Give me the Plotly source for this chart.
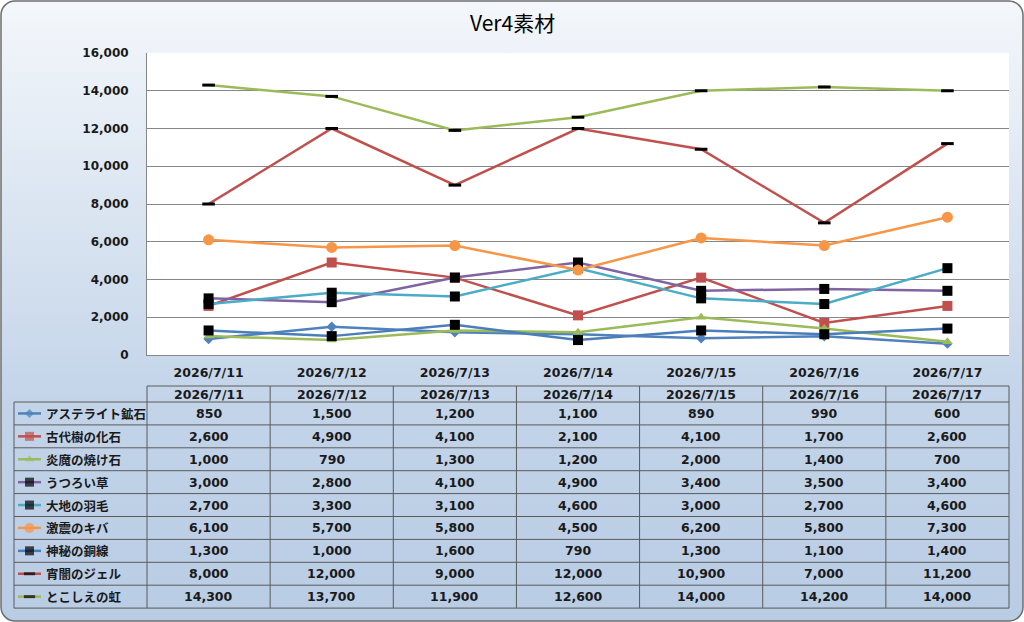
import base64
import plotly.graph_objects as go

# ---------------- data ----------------
dates = ["2026/7/11", "2026/7/12", "2026/7/13", "2026/7/14", "2026/7/15", "2026/7/16", "2026/7/17"]
series_names = ["アステライト鉱石", "古代樹の化石", "炎魔の焼け石", "うつろい草", "大地の羽毛",
                "激震のキバ", "神秘の銅線", "宵闇のジェル", "とこしえの虹"]
astelite = [850, 1500, 1200, 1100, 890, 990, 600]
kodaiju = [2600, 4900, 4100, 2100, 4100, 1700, 2600]
enma = [1000, 790, 1300, 1200, 2000, 1400, 700]
utsuroi = [3000, 2800, 4100, 4900, 3400, 3500, 3400]
daichi = [2700, 3300, 3100, 4600, 3000, 2700, 4600]
gekishin = [6100, 5700, 5800, 4500, 6200, 5800, 7300]
shinpi = [1300, 1000, 1600, 790, 1300, 1100, 1400]
yoiyami = [8000, 12000, 9000, 12000, 10900, 7000, 11200]
tokoshie = [14300, 13700, 11900, 12600, 14000, 14200, 14000]
values = [astelite, kodaiju, enma, utsuroi, daichi, gekishin, shinpi, yoiyami, tokoshie]
y_ticks = [0, 2000, 4000, 6000, 8000, 10000, 12000, 14000, 16000]

# ---------------- styles ----------------
line_colors = ["#4F81BD", "#C0504D", "#9BBB59", "#8064A2", "#4BACC6",
               "#F79646", "#4A7EBB", "#C0504D", "#9BBB59"]
marker_symbols = ["diamond", "square", "triangle-up", "square", "square",
                  "circle", "square", "line-ew-open", "line-ew-open"]
marker_colors = ["#4F81BD", "#C0504D", "#9BBB59", "#000000", "#000000",
                 "#F79646", "#000000", "#000000", "#000000"]
marker_sizes = [8, 10, 9, 10, 10, 11, 10, 9, 9]

W, H = 1024, 622
FONT = "Noto Sans CJK JP"
NUMFONT = "DejaVu Sans, Noto Sans CJK JP"

def px(x):
    return x / W

def py(y):
    return 1 - y / H

# plot area in pixels
PL, PR, PT, PB = 147, 1009, 53, 355
# table geometry in pixels
T_LEFT = 14
HEAD_TOP = 386
ROW_TOP = 402
ROW_H = 22.9
n_rows = len(series_names)
TABLE_BOTTOM = ROW_TOP + n_rows * ROW_H
col_w = (PR - PL) / len(dates)

fig = go.Figure()

for i, (name, vals) in enumerate(zip(series_names, values)):
    is_dash = "line" in marker_symbols[i]
    fig.add_trace(go.Scatter(
        x=dates, y=vals, name=name, mode="lines+markers",
        line=dict(color=line_colors[i], width=2.5),
        marker=dict(symbol=marker_symbols[i], size=marker_sizes[i], color=marker_colors[i],
                    line=dict(color=marker_colors[i], width=3 if is_dash else 0)),
        showlegend=False, hoverinfo="x+y+name",
    ))
    # legend keys inside the table (separate axis)
    fig.add_trace(go.Scatter(
        x=[0.0, 0.5, 1.0], y=[i + 0.5] * 3, mode="lines+markers",
        line=dict(color=line_colors[i], width=2.5),
        marker=dict(symbol=marker_symbols[i], size=[0, marker_sizes[i] - 1, 0], color=marker_colors[i],
                    line=dict(color=marker_colors[i], width=3 if is_dash else 0)),
        xaxis="x2", yaxis="y2", showlegend=False, hoverinfo="skip", cliponaxis=False,
    ))

# ---------------- background (gradient, rounded border) ----------------
svg = f'''<svg xmlns="http://www.w3.org/2000/svg" width="{W}" height="{H}" viewBox="0 0 {W} {H}">
<defs><linearGradient id="g" x1="0" y1="0" x2="0" y2="1">
<stop offset="0" stop-color="#F4F7FB"/><stop offset="0.45" stop-color="#D2DFEE"/>
<stop offset="0.65" stop-color="#C3D4E9"/><stop offset="1" stop-color="#B8CCE4"/></linearGradient></defs>
<rect x="1" y="1" width="{W-2}" height="{H-2}" rx="14" ry="14" fill="url(#g)" stroke="#6E6E6E" stroke-width="1.5"/>
</svg>'''
src = "data:image/svg+xml;base64," + base64.b64encode(svg.encode("utf-8")).decode("ascii")
fig.add_layout_image(dict(source=src, xref="paper", yref="paper", x=0, y=1, sizex=1, sizey=1,
                          xanchor="left", yanchor="top", sizing="stretch", layer="below"))

shapes = []
shapes.append(dict(type="rect", xref="paper", yref="paper", x0=px(PL), x1=px(PR), y0=py(PB), y1=py(PT),
                   fillcolor="white", line=dict(width=0), layer="below"))

LC = "#5A5A5A"
shapes.append(dict(type="line", xref="paper", yref="paper", x0=px(PL), x1=px(PR), y0=py(HEAD_TOP), y1=py(HEAD_TOP),
                   line=dict(color=LC, width=1)))
for r in range(n_rows + 1):
    yy = ROW_TOP + r * ROW_H
    shapes.append(dict(type="line", xref="paper", yref="paper", x0=px(T_LEFT), x1=px(PR), y0=py(yy), y1=py(yy),
                       line=dict(color=LC, width=1)))
shapes.append(dict(type="line", xref="paper", yref="paper", x0=px(T_LEFT), x1=px(T_LEFT),
                   y0=py(ROW_TOP), y1=py(TABLE_BOTTOM), line=dict(color=LC, width=1)))
for c in range(len(dates) + 1):
    xx = PL + c * col_w
    shapes.append(dict(type="line", xref="paper", yref="paper", x0=px(xx), x1=px(xx),
                       y0=py(HEAD_TOP), y1=py(TABLE_BOTTOM), line=dict(color=LC, width=1)))

annotations = []
annotations.append(dict(text="Ver4素材", xref="paper", yref="paper", x=0.5, y=py(22), showarrow=False,
                        font=dict(family=FONT, size=21, color="#000000"), xanchor="center", yanchor="middle"))
for c, d in enumerate(dates):
    annotations.append(dict(text=f"<b>{d}</b>", xref="paper", yref="paper", x=px(PL + (c + 0.5) * col_w),
                            y=py(394), showarrow=False, font=dict(family=NUMFONT, size=12.5, color="#1A1A1A"),
                            xanchor="center", yanchor="middle"))
for r, (name, vals) in enumerate(zip(series_names, values)):
    yc = ROW_TOP + (r + 0.5) * ROW_H
    annotations.append(dict(text=f"<b>{name}</b>", xref="paper", yref="paper", x=px(44), y=py(yc),
                            showarrow=False, font=dict(family=FONT, size=12.5, color="#1A1A1A"),
                            xanchor="left", yanchor="middle"))
    for c, v in enumerate(vals):
        annotations.append(dict(text=f"<b>{v:,}</b>", xref="paper", yref="paper", x=px(PL + (c + 0.5) * col_w),
                                y=py(yc), showarrow=False, font=dict(family=NUMFONT, size=12.5, color="#1A1A1A"),
                                xanchor="center", yanchor="middle"))

fig.update_layout(
    width=W, height=H, margin=dict(l=0, r=0, t=0, b=0, pad=0, autoexpand=False),
    paper_bgcolor="white", plot_bgcolor="rgba(0,0,0,0)",
    font=dict(family=NUMFONT, size=12.5, color="#1A1A1A"),
    xaxis=dict(domain=[px(PL), px(PR)], type="category", categoryorder="array", categoryarray=dates,
               range=[-0.5, len(dates) - 0.5], showgrid=False, showline=True, linecolor="#868686",
               ticks="", tickfont=dict(family=NUMFONT, size=12.5, color="#1A1A1A", weight="bold"),
               ticklabelstandoff=6, zeroline=False),
    yaxis=dict(domain=[py(PB), py(PT)], range=[0, 16000], tickvals=y_ticks, tickformat=",d",
               showgrid=True, gridcolor="#868686", gridwidth=1, showline=True, linecolor="#868686",
               ticks="", tickfont=dict(family=NUMFONT, size=12, color="#1A1A1A", weight="bold"),
               ticklabelstandoff=15, zeroline=False),
    xaxis2=dict(domain=[px(18), px(41)], range=[0, 1], visible=False, fixedrange=True),
    yaxis2=dict(domain=[py(TABLE_BOTTOM), py(ROW_TOP)], range=[n_rows, 0], visible=False, fixedrange=True,
                anchor="x2"),
    shapes=shapes, annotations=annotations,
)

fig.write_html("out.html", config={"displayModeBar": False},
               post_script="document.body.style.margin='0';document.body.style.padding='0';")
